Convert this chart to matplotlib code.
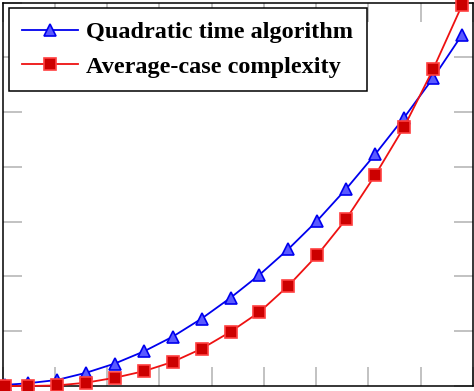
import numpy as np
import matplotlib
matplotlib.use('Agg')
import matplotlib.pyplot as plt

# input sizes (x) and running-time curves (y, arbitrary units)
n_values = [1, 5, 10, 15, 20, 25, 30, 35, 40, 45, 50, 55, 60, 65, 70, 75, 80]
quadratic = [0.02, 0.05, 0.11, 0.24, 0.41, 0.63, 0.90, 1.23, 1.61, 2.03,
             2.50, 3.02, 3.60, 4.23, 4.90, 5.62, 6.41]
average_case = [0.0, 0.0, 0.01, 0.06, 0.15, 0.27, 0.44, 0.68, 0.99, 1.35,
                1.83, 2.39, 3.05, 3.85, 4.73, 5.78, 6.95]
labels = ['Quadratic time algorithm', 'Average-case complexity']

plt.rcParams['font.family'] = ['Liberation Serif', 'DejaVu Serif']

fig = plt.figure(figsize=(4.74, 3.91), dpi=100)
ax = fig.add_axes([2.5 / 474, 5 / 391, 470.5 / 474, 383.5 / 391])

ax.plot(n_values, quadratic, color='#0000ee', lw=1.3, marker='^', ms=9,
        mfc='#5a5aff', mec='#0000ee', mew=1.2, label=labels[0], clip_on=False, zorder=3)
ax.plot(n_values, average_case, color='#ee1111', lw=1.3, marker='s', ms=8.5,
        mfc='#cc0000', mec='#ff4040', mew=1.2, label=labels[1], clip_on=False, zorder=4)

xmin, xmax = 0.59, 81.9
ax.set_xlim(xmin, xmax)
ax.set_ylim(0, 7)
ax.set_xticks(np.linspace(xmin, xmax, 10))
ax.set_yticks(np.arange(0, 8))
ax.tick_params(direction='in', length=14, width=1.2, color='#b8b8b8',
               top=True, right=True, labelbottom=False, labelleft=False)
for s in ax.spines.values():
    s.set_linewidth(1.1)

leg = ax.legend(loc='upper left', bbox_to_anchor=(0.0138, 0.9857), borderaxespad=0,
                prop={'weight': 'bold', 'size': 17.5}, fancybox=False,
                edgecolor='black', framealpha=1, handlelength=2.3,
                handletextpad=0.33, labelspacing=0.5, borderpad=0.55)
leg.get_frame().set_linewidth(1.1)

fig.savefig('out.png', dpi=100)
